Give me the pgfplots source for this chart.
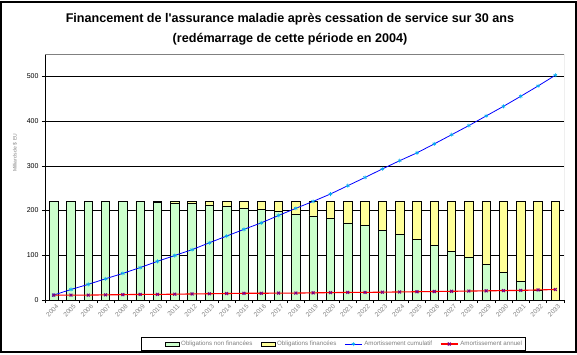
\documentclass[border=0pt]{standalone}
\usepackage{pgfplots}
\pgfplotsset{compat=1.18}
\usepackage{fontspec}
\setmainfont{Liberation Sans}
\definecolor{ngreen}{HTML}{CCFFCC}
\definecolor{fyellow}{HTML}{FFFF99}
\definecolor{mpurple}{HTML}{800080}
\definecolor{lgray}{HTML}{808080}
\begin{document}
\begin{tikzpicture}[x=1pt,y=1pt]
\useasboundingbox (0,0) rectangle (577,354);
\draw[line width=1.3pt] (1,2) rectangle (576,352);
\node[font=\bfseries\fontsize{12.6}{14}\selectfont] at (290,335) {Financement de l\textquotesingle assurance maladie après cessation de service sur 30 ans};
\node[font=\bfseries\fontsize{12.6}{14}\selectfont] at (290,315) {(redémarrage de cette période en 2004)};
\begin{axis}[
  at={(45pt,54pt)}, anchor=south west, scale only axis,
  width=519pt, height=246pt,
  xmin=-0.5, xmax=29.5, ymin=0, ymax=550,
  axis x line*=bottom, axis y line*=left,
  axis line style={black, line width=0.8pt},
  ytick={0,100,...,500}, ymajorgrids, grid style={black, line width=0.6pt},
  tick align=outside, major tick length=3pt,
  tick style={black, line width=0.6pt},
  xtick={-0.5,0.5,...,29.5}, xticklabel={\mbox{}},
  extra x ticks={0,1,...,29},
  extra x tick labels={2004,2005,2006,2007,2008,2009,2010,2011,2012,2013,2014,2015,2016,2017,2018,2019,2020,2021,2022,2023,2024,2025,2026,2027,2028,2029,2030,2031,2032,2033},
  extra x tick style={major tick length=0pt, grid=none,
    xticklabel style={rotate=45, anchor=north east, text=lgray, font=\fontsize{6.5}{7}\selectfont, inner sep=1pt, yshift=-3pt}},
  ticklabel style={font=\fontsize{7}{8}\selectfont},
  /pgf/number format/assume math mode=true,
  ylabel={Milliards de \$ EU},
  ylabel style={at={(axis description cs:-0.058,0.598)}, anchor=center, font=\fontsize{5}{6}\selectfont, text=lgray},
  legend style={at={(0.5555,-0.179)}, anchor=center, draw=black, line width=0.6pt, fill=white,
    font=\fontsize{6.2}{7}\selectfont, text=lgray, inner sep=1.5pt,
    /tikz/every even column/.append style={column sep=6pt}},
  legend columns=4,
]
\draw[gray, line width=0.6pt] (rel axis cs:0,1) -- (rel axis cs:1,1) -- (rel axis cs:1,0);
% total (yellow drawn first, green over it)
\addplot[ybar, bar width=8.5pt, bar shift=0pt, fill=fyellow, draw=black, line width=0.7pt, forget plot] coordinates {
(0,221)(1,221)(2,221)(3,221)(4,221)(5,221)(6,221)(7,221)(8,221)(9,221)
(10,221)(11,221)(12,221)(13,221)(14,221)(15,221)(16,221)(17,221)(18,221)(19,221)
(20,221)(21,221)(22,221)(23,221)(24,221)(25,221)(26,221)(27,221)(28,221)(29,221)};
\addplot[ybar, bar width=8.5pt, bar shift=0pt, fill=ngreen, draw=black, line width=0.7pt,
  legend image code/.code={\path (0pt,0pt); \draw[fill=ngreen, draw=black, line width=0.6pt] (22pt,-2pt) rectangle (36pt,2pt);}] coordinates {
(0,221)(1,221)(2,221)(3,221)(4,221)(5,219.5)(6,218.5)(7,217)(8,215)(9,212.5)
(10,210.5)(11,206)(12,203)(13,198)(14,192.5)(15,188)(16,181.5)(17,172.5)(18,166)(19,155)
(20,146)(21,135)(22,121.5)(23,108)(24,95)(25,79.5)(26,61.5)(27,42)(28,22)(29,0)};
\addlegendentry{Obligations non financées}
\addlegendimage{legend image code/.code={\draw[fill=fyellow, draw=black, line width=0.6pt] (0pt,-2pt) rectangle (14pt,2pt);}}
\addlegendentry{Obligations financées}
\addplot[blue, line width=0.8pt, mark=asterisk, mark size=2pt, mark options={cyan, line width=0.6pt}] coordinates {
(0,11)(1,23.5)(2,35)(3,47.5)(4,59.5)(5,72.5)(6,86.5)(7,99.5)(8,112.5)(9,128)
(10,143)(11,158)(12,172.5)(13,189)(14,205)(15,220.5)(16,237)(17,255.5)(18,274)(19,293)
(20,311.5)(21,329)(22,349)(23,369.5)(24,390)(25,411.5)(26,433)(27,455.5)(28,478.5)(29,502.5)};
\addlegendentry{Amortissement cumulatif}
\addplot[red, line width=1.1pt, mark=x, mark size=2pt, mark options={mpurple, line width=1.1pt}] coordinates {
(0,11)(1,11)(2,11)(3,11.5)(4,12)(5,12.5)(6,12.5)(7,13)(8,13.5)(9,14)
(10,14.5)(11,15)(12,15)(13,15.5)(14,15.5)(15,16)(16,16.5)(17,17)(18,17)(19,17.5)
(20,18)(21,18.5)(22,19)(23,19.5)(24,20)(25,20.5)(26,21)(27,21.5)(28,22.5)(29,23.5)};
\addlegendentry{Amortissement annuel}
\end{axis}
\end{tikzpicture}
\end{document}
